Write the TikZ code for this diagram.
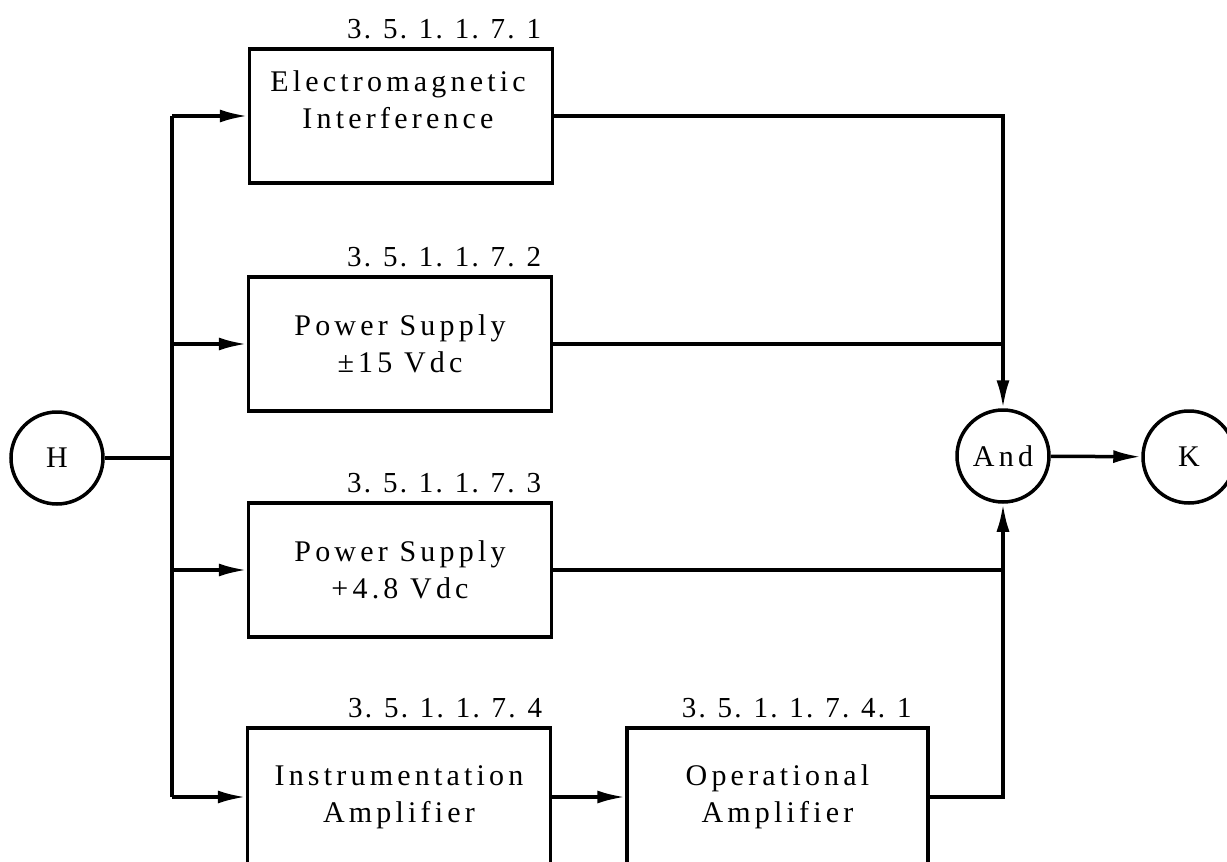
\documentclass[tikz,border=0pt]{standalone}
\usepackage{fontspec}
\setmainfont{Liberation Serif}[LetterSpace=14]
\newfontfamily\numfam{Liberation Serif}[LetterSpace=8,WordSpace=0.9]
\usetikzlibrary{arrows.meta,calc}
\newcommand\txtfont{\fontsize{30}{37}\selectfont}
\newcommand\numfont{\numfam\fontsize{29}{32}\selectfont}
\tikzset{
  blk/.style={draw, line width=3.5pt, minimum width=303pt, minimum height=134pt, inner sep=0pt, align=center, font=\txtfont},
  rnd/.style={draw, circle, line width=3.5pt, minimum size=92pt, inner sep=0pt, font=\txtfont},
  num/.style={anchor=base east, inner sep=0pt, font=\numfont},
  ln/.style={line width=3.5pt},
  arr/.style={line width=3.5pt, -{Latex[length=28pt,width=13pt]}}
}
\begin{document}
\begin{tikzpicture}[x=1pt,y=-1pt]
\useasboundingbox (0,0) rectangle (1227,862);
% circles
\node[rnd] (H) at (57,458) {H};
\node[rnd] (And) at (1003,456) {And};
\node[rnd] (K) at (1189,457) {K};
% boxes
\node[blk] (b1) at (401,116) {};
\node[anchor=center, align=center, inner sep=0pt, font=\txtfont] (t1) at (398,100) {Electromagnetic\\Interference};
\node[blk] (b2) at (400,344) {Power Supply\\\textpm15 Vdc};
\node[blk] (b3) at (400,570) {Power Supply\\+4.8 Vdc};
\node[blk, minimum height=138pt] (b4) at (399,797) {Instrumentation\\Amplifier};
\node[blk, minimum width=301pt, minimum height=138pt] (b5) at (777.5,797) {Operational\\Amplifier};
% number labels
\node[num] (n1) at ($(b1.north east)+(-13,-9)$) {3. 5. 1. 1. 7. 1};
\node[num] (n2) at ($(b2.north east)+(-12,-9)$) {3. 5. 1. 1. 7. 2};
\node[num] (n3) at ($(b3.north east)+(-12,-9)$) {3. 5. 1. 1. 7. 3};
\node[num] (n4) at ($(b4.north east)+(-10,-9)$) {3. 5. 1. 1. 7. 4};
\node[num] (n5) at ($(b5.north east)+(-18,-9)$) {3. 5. 1. 1. 7. 4. 1};
% left bus
\coordinate (jt) at (172,116);
\coordinate (jb) at (172,797);
\draw[ln] (jt) -- (jb);
\draw[ln] (H) -- (H -| jt);
\draw[arr] (jt) -- (b1.west);
\draw[arr] (b2.west -| jt) -- (b2.west);
\draw[arr] (b3.west -| jt) -- (b3.west);
\draw[arr] (jb) -- (b4.west);
\draw[arr] (b4.east) -- (b5.west);
% right side
\draw[arr] (b1.east) -| (And.north);
\draw[ln] (b2.east) -- (b2.east -| And);
\draw[ln] (b3.east) -- (b3.east -| And);
\draw[arr] (b5.east) -| (And.south);
\draw[arr] (And) -- (K);
\end{tikzpicture}
\end{document}
